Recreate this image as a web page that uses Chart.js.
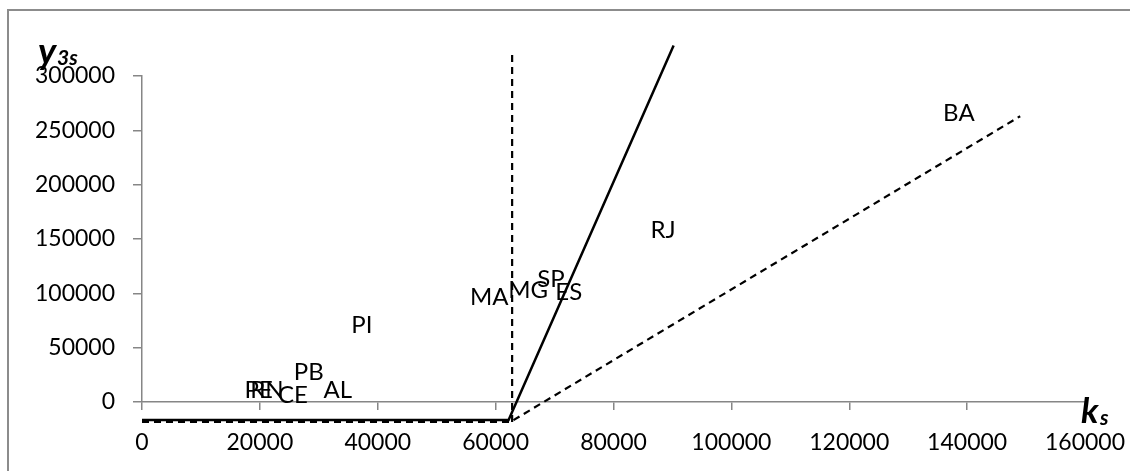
<!DOCTYPE html>
<html>
<head>
<meta charset="utf-8">
<script src="https://cdn.jsdelivr.net/npm/chart.js@4/dist/chart.umd.min.js"></script>
<style>
  html, body { margin: 0; padding: 0; background: #fff; }
  canvas { display: block; }
</style>
</head>
<body>
<canvas id="chart" width="1130" height="471"></canvas>
<script>
// states and their (k_s, y_3s) positions
const states = ['PE', 'RN', 'CE', 'PB', 'AL', 'PI', 'MA', 'MG', 'SP', 'ES', 'RJ', 'BA']
const ks = [19800, 21200, 25600, 28300, 33200, 37300, 58900, 65500, 69400, 72400, 88400, 138600]
const y3s = [11000, 11000, 6400, 27600, 11000, 70800, 96500, 102900, 113100, 101100, 158100, 265600]

// drawn guide lines
const solidX = [0, 62200, 90200]
const solidY = [-16500, -16500, 328000]
const dashX = [0, 62500, 149000]
const dashY = [-18400, -18400, 263000]
const vertX = [62800, 62800]
const vertY = [-18400, 323500]

const xTicks = [0, 20000, 40000, 60000, 80000, 100000, 120000, 140000, 160000]
const yTicks = [0, 50000, 100000, 150000, 200000, 250000, 300000]

const AXIS = '#868686'

Chart.defaults.font.family = 'Lato'
Chart.defaults.font.size = 23
Chart.defaults.color = '#000'

const toPts = (xs, ys) => xs.map((x, i) => ({x: x, y: ys[i]}))

const labelPlugin = {
  id: 'stateLabels',
  afterDatasetsDraw(chart) {
    const ctx = chart.ctx
    const meta = chart.getDatasetMeta(3)
    ctx.save()
    ctx.font = '24px Lato'
    ctx.fillStyle = '#000'
    ctx.textAlign = 'center'
    ctx.textBaseline = 'middle'
    meta.data.forEach((p, i) => ctx.fillText(states[i], p.x, p.y))
    ctx.restore()
  },
  afterDraw(chart) {
    const ctx = chart.ctx
    ctx.save()
    // frame
    ctx.strokeStyle = '#8c8c8c'
    ctx.lineWidth = 2
    ctx.strokeRect(8, 10, 1140, 480)
    // axis names
    ctx.fillStyle = '#000'
    ctx.textBaseline = 'alphabetic'
    ctx.font = 'italic bold 37px Lato'
    ctx.fillText('y', 38, 64)
    ctx.font = 'italic bold 21px Lato'
    ctx.fillText('3s', 57, 65)
    ctx.font = 'italic bold 35px Lato'
    ctx.fillText('k', 1081, 423)
    ctx.font = 'italic bold 21px Lato'
    ctx.fillText('s', 1100, 425)
    ctx.restore()
  }
}

new Chart(document.getElementById('chart'), {
  type: 'scatter',
  data: {
    datasets: [
      {
        type: 'line',
        data: toPts(solidX, solidY),
        borderColor: '#000',
        borderWidth: 2.5,
        pointRadius: 0,
        clip: false
      },
      {
        type: 'line',
        data: toPts(dashX, dashY),
        borderColor: '#000',
        borderWidth: 2.2,
        borderDash: [7, 5],
        pointRadius: 0,
        clip: false
      },
      {
        type: 'line',
        data: toPts(vertX, vertY),
        borderColor: '#000',
        borderWidth: 2.2,
        borderDash: [7, 5],
        pointRadius: 0,
        clip: false
      },
      {
        data: toPts(ks, y3s),
        pointRadius: 0,
        pointHoverRadius: 0
      }
    ]
  },
  options: {
    responsive: false,
    animation: false,
    layout: {padding: {top: 76, right: 45, left: 0, bottom: 0}},
    plugins: {legend: {display: false}, tooltip: {enabled: false}},
    scales: {
      x: {
        type: 'linear',
        min: 0,
        max: 160000,
        afterBuildTicks: s => { s.ticks = xTicks.map(v => ({value: v})) },
        afterFit: s => { s.height = 69; s.paddingLeft = 0; s.paddingRight = 0 },
        border: {color: AXIS, width: 1.5},
        grid: {drawOnChartArea: false, color: AXIS, lineWidth: 1.5, tickLength: 8},
        ticks: {padding: 19, maxRotation: 0, callback: v => String(v)}
      },
      y: {
        type: 'linear',
        min: 0,
        max: 300000,
        afterBuildTicks: s => { s.ticks = yTicks.map(v => ({value: v})) },
        afterFit: s => { s.width = 142; s.paddingTop = 0; s.paddingBottom = 0 },
        border: {color: AXIS, width: 1.5},
        grid: {drawOnChartArea: false, color: AXIS, lineWidth: 1.5, tickLength: 9},
        ticks: {padding: 18, callback: v => String(v)}
      }
    }
  },
  plugins: [labelPlugin]
})
</script>
</body>
</html>
